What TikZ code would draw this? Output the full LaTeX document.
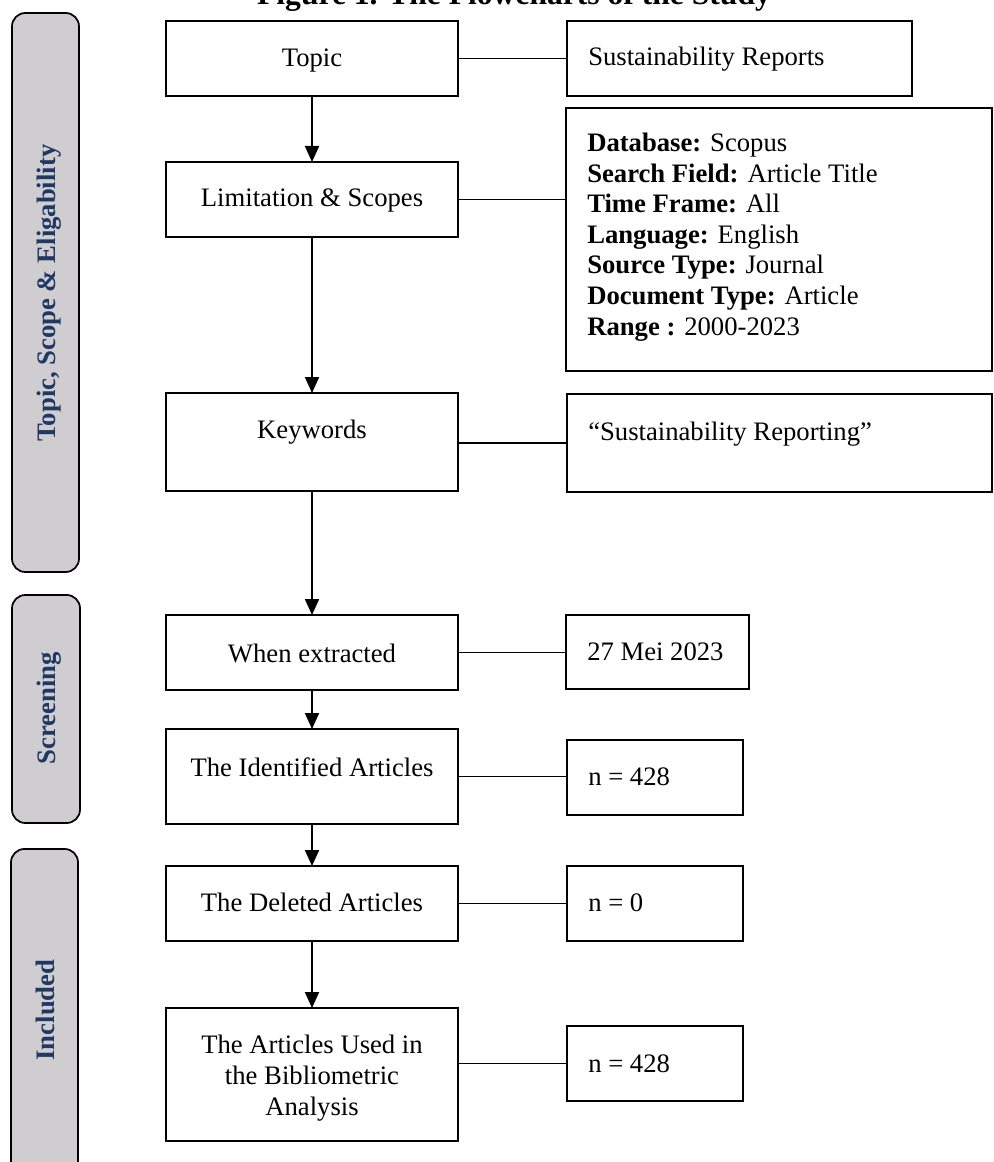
\documentclass[tikz,border=0pt]{standalone}
\usepackage{fontspec}
\setmainfont{Liberation Serif}
\usetikzlibrary{arrows.meta,fit}
\definecolor{barfill}{HTML}{CFCDD0}
\definecolor{bartext}{HTML}{1F3864}
\begin{document}
\begin{tikzpicture}[x=0.75pt,y=-0.75pt]
\tikzset{
  box/.style={draw=black, line width=1.3pt, inner sep=0pt, outer sep=0pt, fit={#1}},
  bar/.style={draw=black, line width=1.3pt, fill=barfill, rounded corners=10pt, inner sep=0pt, outer sep=0pt, fit={#1}},
  txt/.style={font=\fontsize{20}{23}\selectfont, anchor=base, inner sep=0pt},
  ltxt/.style={txt, anchor=base west},
  bartxt/.style={font=\fontsize{20}{23}\selectfont\bfseries, text=bartext, rotate=90, anchor=base, inner sep=0pt},
  flow/.style={line width=1.5pt, -{Triangle[length=12pt,width=10.5pt]}},
  link/.style={line width=1.2pt},
}
\useasboundingbox (0,0) rectangle (993,1162);

% title (cut at top, as in the reference)
\node[font=\fontsize{23.7}{28}\selectfont\bfseries, anchor=base, inner sep=0pt] (title) at (514,5) {Figure 1. The Flowcharts of the Study};

% side bars
\node[bar={(12,13) (79,572)}] (bar1) {};
\node[bar={(12,595) (80,823)}] (bar2) {};
\node[bar={(11,849) (78,1195)}] (bar3) {};
\node[bartxt] (bar1t) at (55,293) {Topic, Scope \& Eligability};
\node[bartxt] (bar2t) at (55,708) {Screening};
\node[bartxt] (bar3t) at (54,1010) {Included};

% left column boxes
\node[box={(166,21) (458,96)}] (topic) {};
\node[box={(166,162) (458,237)}] (lim) {};
\node[box={(166,393) (458,491)}] (kw) {};
\node[box={(166,615) (458,690)}] (when) {};
\node[box={(166,729) (458,824)}] (ident) {};
\node[box={(166,866) (458,941)}] (del) {};
\node[box={(166,1008) (458,1141)}] (used) {};

\node[txt] (topict) at (312,67) {Topic};
\node[txt] (limt) at (312,207) {Limitation \& Scopes};
\node[txt] (kwt) at (312,438) {Keywords};
\node[txt] (whent) at (312,662) {When extracted};
\node[txt] (identt) at (312,776) {The Identified Articles};
\node[txt] (delt) at (312,911) {The Deleted Articles};
\node[font=\fontsize{20}{23.2}\selectfont, align=center, inner sep=0pt, anchor=center] (usedt) at (312,1078) {The Articles Used in\\the Bibliometric\\Analysis};

% right column boxes
\node[box={(567,21) (912,96)}] (sust) {};
\node[box={(566,108) (992,371)}] (db) {};
\node[box={(567,394) (992,492)}] (sr) {};
\node[box={(566,615) (749,689)}] (mei) {};
\node[box={(567,740) (743,815)}] (n1) {};
\node[box={(567,866) (743,941)}] (n0) {};
\node[box={(567,1026) (743,1101)}] (n2) {};

\node[ltxt] (sustt) at (588,66) {Sustainability Reports};
\node[ltxt] (db1) at (587,152) {\textbf{Database:} Scopus};
\node[ltxt] (db2) at (587,182.5) {\textbf{Search Field:} Article Title};
\node[ltxt] (db3) at (587,213) {\textbf{Time Frame:} All};
\node[ltxt] (db4) at (587,243.5) {\textbf{Language:} English};
\node[ltxt] (db5) at (587,274) {\textbf{Source Type:} Journal};
\node[ltxt] (db6) at (587,304.5) {\textbf{Document Type:} Article};
\node[ltxt] (db7) at (587,335) {\textbf{Range :} 2000-2023};
\node[ltxt] (srt) at (588,440) {“Sustainability Reporting”};
\node[ltxt] (meit) at (587,660) {27 Mei 2023};
\node[ltxt] (n1t) at (588,785) {n = 428};
\node[ltxt] (n0t) at (588,911) {n = 0};
\node[ltxt] (n2t) at (588,1072) {n = 428};

% flow arrows
\draw[flow] (topic.south) -- (lim.north);
\draw[flow] (lim.south) -- (kw.north);
\draw[flow] (kw.south) -- (when.north);
\draw[flow] (when.south) -- (ident.north);
\draw[flow] (ident.south) -- (del.north);
\draw[flow] (del.south) -- (used.north);

% side links
\draw[link] (topic.east) -- (topic.east -| sust.west);
\draw[link] (lim.east) -- (lim.east -| db.west);
\draw[link] (kw.east |- sr.west) -- (sr.west);
\draw[link] (when.east) -- (when.east -| mei.west);
\draw[link] (ident.east) -- (ident.east -| n1.west);
\draw[link] (del.east) -- (del.east -| n0.west);
\draw[link] (used.east |- n2.west) -- (n2.west);
\end{tikzpicture}
\end{document}
